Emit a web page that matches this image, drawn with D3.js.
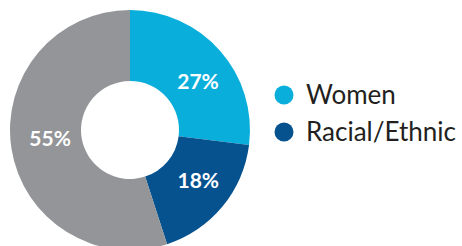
<!DOCTYPE html>
<html><head><meta charset="utf-8">
<script src="https://cdn.jsdelivr.net/npm/d3@7"></script>
<style>html,body{margin:0;padding:0;background:#fff;}svg{display:block;}</style>
</head><body>
<script>
const categories = ["Women", "Racial/Ethnic", "Other"];
const values = [27, 18, 55];
const labels = ["27%", "18%", "55%"];
const legendItems = ["Women", "Racial/Ethnic"];
const colors = ["#0aaedb", "#05528f", "#939598"];

const W = 462, H = 246;
const svg = d3.select("body").append("svg").attr("width", W).attr("height", H);
const cx = 130, cy = 130, R = 120, r = 49;
const pie = d3.pie().sort(null).value(d => d)(values);
const arc = d3.arc().innerRadius(r).outerRadius(R);
const color = d3.scaleOrdinal().domain(categories).range(colors);
const g = svg.append("g").attr("transform", `translate(${cx},${cy})`);
g.selectAll("path").data(pie).enter().append("path")
  .attr("d", arc).attr("fill", (d, i) => color(categories[i]));
const labelArc = d3.arc().innerRadius(86).outerRadius(86);
// small layout nudges for label placement
const nudge = [[3.5, 9], [2, -4], [5, -4.5]];
g.selectAll("text").data(pie).enter().append("text")
  .attr("transform", (d, i) => {
    const c = labelArc.centroid(d);
    return `translate(${c[0] + nudge[i][0]},${c[1] + nudge[i][1]})`;
  })
  .attr("text-anchor", "middle").attr("dy", "0.35em")
  .attr("fill", "#fff").attr("font-family", "Lato").attr("font-weight", "bold")
  .attr("font-size", 21).text((d, i) => labels[i]);

const leg = svg.append("g");
const ls = d3.scalePoint().domain(legendItems).range([95, 132]);
legendItems.forEach(name => {
  leg.append("circle").attr("cx", 284).attr("cy", ls(name)).attr("r", 9.5).attr("fill", color(name));
  leg.append("text").attr("x", 306).attr("y", ls(name)).attr("dy", "0.35em")
    .attr("font-family", "Lato").attr("font-size", 26).attr("fill", "#231f20").text(name);
});
</script>
</body></html>
